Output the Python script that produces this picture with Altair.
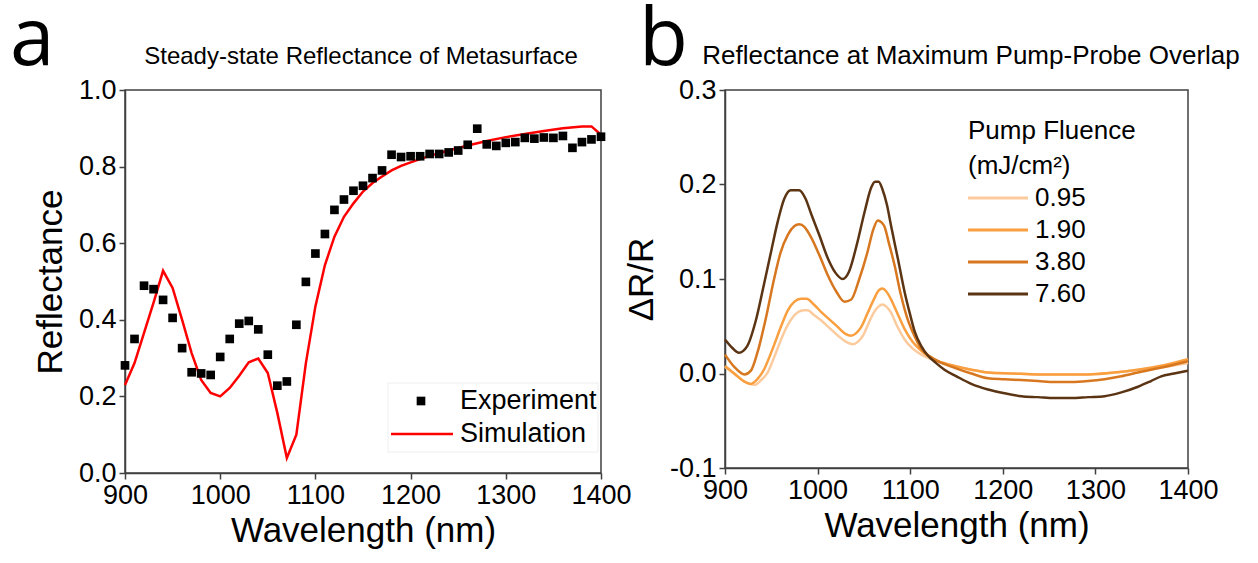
import altair as alt
import pandas as pd

# ---------------- Panel a data ----------------
exp_wl = list(range(900, 1401, 10))
exp_R = [0.281, 0.350, 0.489, 0.480, 0.452, 0.405, 0.326, 0.263, 0.260, 0.256,
         0.303, 0.350, 0.390, 0.397, 0.375, 0.309, 0.228, 0.239, 0.387, 0.499,
         0.573, 0.624, 0.687, 0.714, 0.737, 0.750, 0.770, 0.790, 0.831, 0.825,
         0.827, 0.827, 0.833, 0.833, 0.837, 0.842, 0.857, 0.899, 0.858, 0.854,
         0.862, 0.864, 0.875, 0.873, 0.876, 0.875, 0.880, 0.849, 0.864, 0.871,
         0.878]
sim_wl = [900, 910, 920, 930, 940, 950, 960, 970, 980, 990, 1000, 1010, 1020,
          1030, 1040, 1050, 1060, 1070, 1080, 1090, 1100, 1110, 1120, 1130,
          1140, 1150, 1160, 1170, 1180, 1190, 1200, 1220, 1240, 1260, 1280,
          1300, 1320, 1340, 1360, 1380, 1390, 1400]
sim_R = [0.230, 0.287, 0.366, 0.445, 0.528, 0.483, 0.400, 0.313, 0.243, 0.209,
         0.200, 0.222, 0.254, 0.289, 0.299, 0.261, 0.157, 0.039, 0.100, 0.287,
         0.435, 0.543, 0.617, 0.669, 0.704, 0.735, 0.757, 0.774, 0.790, 0.802,
         0.811, 0.828, 0.842, 0.855, 0.867, 0.877, 0.885, 0.893, 0.900, 0.905,
         0.905, 0.883]
legend_a_labels = ["Experiment", "Simulation"]
title_a = "Steady-state Reflectance of Metasurface"
title_b = "Reflectance at Maximum Pump-Probe Overlap"

# ---------------- Panel b data ----------------
fluences = ["0.95", "1.90", "3.80", "7.60"]
fluence_colors = ["#FCCB9D", "#F99F3F", "#D7771F", "#5B3413"]

wl_095 = [900, 912, 922, 932, 939, 946, 955, 964, 972, 979, 985, 989, 996, 1004,
          1013, 1022, 1030, 1038, 1044, 1049, 1055, 1061, 1066, 1070, 1074, 1079,
          1086, 1094, 1103, 1112, 1130, 1148, 1166, 1184, 1210, 1238, 1265, 1292,
          1320, 1346, 1375, 1400]
dr_095 = [0.007, -0.002, -0.009, -0.012, -0.007, 0.001, 0.022, 0.044, 0.058, 0.065,
          0.067, 0.067, 0.062, 0.056, 0.048, 0.040, 0.034, 0.031, 0.034, 0.040,
          0.053, 0.065, 0.071, 0.073, 0.071, 0.065, 0.050, 0.036, 0.026, 0.020,
          0.013, 0.008, 0.004, 0.001, 0.000, -0.001, -0.001, -0.001, 0.001, 0.004,
          0.007, 0.011]

wl_190 = [900, 910, 920, 928, 935, 942, 951, 961, 968, 975, 982, 988, 996, 1004,
          1013, 1022, 1030, 1036, 1042, 1047, 1054, 1061, 1066, 1070, 1074, 1079,
          1086, 1094, 1103, 1112, 1130, 1148, 1166, 1184, 1210, 1238, 1265, 1292,
          1320, 1346, 1375, 1400]
dr_190 = [0.008, 0.000, -0.008, -0.011, -0.006, 0.004, 0.025, 0.051, 0.067, 0.076,
          0.079, 0.079, 0.073, 0.065, 0.057, 0.049, 0.042, 0.040, 0.043, 0.049,
          0.064, 0.079, 0.088, 0.090, 0.087, 0.079, 0.064, 0.047, 0.033, 0.024,
          0.013, 0.008, 0.004, 0.001, 0.000, -0.001, -0.001, -0.001, 0.001, 0.004,
          0.009, 0.015]

wl_380 = [900, 910, 921, 928, 935, 944, 953, 960, 968, 975, 980, 986, 993, 1002,
          1011, 1020, 1029, 1036, 1045, 1054, 1060, 1065, 1069, 1072, 1077, 1083,
          1090, 1097, 1105, 1112, 1120, 1130, 1148, 1166, 1184, 1202, 1220, 1238,
          1256, 1274, 1292, 1310, 1328, 1346, 1370, 1400]
dr_380 = [0.020, 0.007, -0.001, 0.003, 0.022, 0.058, 0.100, 0.128, 0.147, 0.156,
          0.158, 0.155, 0.144, 0.125, 0.104, 0.087, 0.076, 0.078, 0.100, 0.129,
          0.152, 0.162, 0.160, 0.156, 0.138, 0.115, 0.083, 0.058, 0.039, 0.026,
          0.019, 0.013, 0.006, 0.000, -0.005, -0.006, -0.007, -0.008, -0.009,
          -0.009, -0.008, -0.006, -0.003, 0.001, 0.006, 0.013]

wl_760 = [900, 908, 915, 924, 933, 942, 950, 957, 964, 971, 980, 987, 993, 1002,
          1011, 1019, 1027, 1034, 1042, 1051, 1058, 1062, 1066, 1070, 1075, 1079,
          1087, 1094, 1100, 1105, 1112, 1119, 1128, 1137, 1150, 1166, 1184, 1202,
          1220, 1238, 1256, 1274, 1292, 1310, 1328, 1346, 1360, 1371, 1385, 1400]
dr_760 = [0.036, 0.027, 0.022, 0.029, 0.055, 0.094, 0.130, 0.161, 0.185, 0.194,
          0.194, 0.185, 0.169, 0.146, 0.122, 0.107, 0.100, 0.108, 0.135, 0.172,
          0.197, 0.203, 0.203, 0.195, 0.178, 0.158, 0.120, 0.086, 0.062, 0.044,
          0.029, 0.019, 0.011, 0.004, -0.003, -0.011, -0.017, -0.021, -0.024,
          -0.025, -0.026, -0.026, -0.025, -0.024, -0.020, -0.014, -0.008, -0.003,
          0.000, 0.003]

FONT = "Liberation Sans"
wl_ticks = [900, 1000, 1100, 1200, 1300, 1400]


def text_layer(label, x, y, size, font=FONT, align="left", baseline="middle"):
    return alt.Chart(pd.DataFrame({"label": [label]})).mark_text(
        align=align, baseline=baseline, font=font, fontSize=size, color="black").encode(
        x=alt.value(x), y=alt.value(y), text="label:N")


# ---------------- Panel a ----------------
exp_df = pd.DataFrame({"wl": exp_wl, "R": exp_R})
sim_df = pd.DataFrame({"wl": sim_wl, "R": sim_R})

xa = alt.X("wl:Q", scale=alt.Scale(domain=[900, 1400], nice=False, zero=False),
           axis=alt.Axis(values=wl_ticks, format="d", title="Wavelength (nm)"))
ya = alt.Y("R:Q", scale=alt.Scale(domain=[0, 1], nice=False),
           axis=alt.Axis(values=[0, 0.2, 0.4, 0.6, 0.8, 1.0], format=".1f",
                         title="Reflectance"))

sim_line = alt.Chart(sim_df).mark_line(color="#FF0000", strokeWidth=2.5).encode(x=xa, y=ya)
exp_pts = alt.Chart(exp_df).mark_point(shape="square", filled=True, color="black",
                                       size=75, opacity=1).encode(x=xa, y=ya)

leg_box = alt.Chart(pd.DataFrame({"k": [0]})).mark_rect(
    fill="white", stroke="#eeeeee", strokeWidth=1).encode(
    x=alt.value(263), x2=alt.value(473), y=alt.value(293), y2=alt.value(362))
leg_sq = alt.Chart(pd.DataFrame({"label": [legend_a_labels[0]]})).mark_point(
    shape="square", filled=True, color="black", size=75, opacity=1).encode(
    x=alt.value(296), y=alt.value(311))
leg_ln = alt.Chart(pd.DataFrame({"label": [legend_a_labels[1]]})).mark_rule(
    color="#FF0000", strokeWidth=2.5).encode(
    x=alt.value(266), x2=alt.value(328), y=alt.value(344))
leg_t1 = text_layer(legend_a_labels[0], 335, 311, 27)
leg_t2 = text_layer(legend_a_labels[1], 335, 344, 27)
letter_a = text_layer("a", -115, -25, 80, font="Open Sans", baseline="alphabetic")
ttl_a = text_layer(title_a, 236, -26, 24, align="center", baseline="alphabetic")

panel_a = alt.layer(sim_line, exp_pts, leg_box, leg_sq, leg_ln, leg_t1, leg_t2,
                    letter_a, ttl_a).properties(width=476, height=383)

# ---------------- Panel b ----------------
rows = []
for f, wls, vals in zip(fluences, [wl_095, wl_190, wl_380, wl_760],
                        [dr_095, dr_190, dr_380, dr_760]):
    for w, v in zip(wls, vals):
        rows.append({"wl": w, "dr": v, "fluence": f})
b_df = pd.DataFrame(rows)

xb = alt.X("wl:Q", scale=alt.Scale(domain=[900, 1400], nice=False, zero=False),
           axis=alt.Axis(values=wl_ticks, format="d", title="Wavelength (nm)"))
yb = alt.Y("dr:Q", scale=alt.Scale(domain=[-0.1, 0.3], nice=False, zero=False),
           axis=alt.Axis(values=[-0.1, 0.0, 0.1, 0.2, 0.3],
                         labelExpr="replace(format(datum.value, '.1f'), '\u2212', '-')",
                         title="\u0394R/R"))

lines_b = alt.Chart(b_df).mark_line(strokeWidth=2.5, interpolate="monotone").encode(
    x=xb, y=yb,
    color=alt.Color("fluence:N",
                    scale=alt.Scale(domain=fluences, range=fluence_colors),
                    legend=alt.Legend(
                        orient="none", legendX=243, legendY=28,
                        title=["Pump Fluence", "(mJ/cm\u00b2)"],
                        titleFont=FONT, titleFontSize=26, titleFontWeight="normal",
                        titleColor="black", titleLineHeight=35, titlePadding=6,
                        labelFont=FONT, labelFontSize=26, labelColor="black",
                        labelOffset=41, symbolType="M-2.6,0H9.4", symbolSize=100,
                        symbolStrokeWidth=3, rowPadding=6, padding=0)))

letter_b = text_layer("b", -86, -25, 80, font="Open Sans", baseline="alphabetic")
ttl_b = text_layer(title_b, 246, -26, 26, align="center", baseline="alphabetic")

panel_b = alt.layer(lines_b, letter_b, ttl_b).properties(width=463, height=378)

chart = alt.hconcat(panel_a, panel_b, spacing=124, bounds="flush").resolve_scale(
    color="independent").resolve_legend(color="independent").properties(
    padding={"left": 9, "top": 0, "right": 5, "bottom": 2}, background="white"
).configure_axis(
    labelFont=FONT, titleFont=FONT, labelFontSize=27, titleFontSize=35,
    titleFontWeight="normal", labelColor="black", titleColor="black",
    domainColor="#404040", tickColor="#404040", domainWidth=1.5, tickWidth=1.5,
    tickSize=6, grid=False, labelPadding=3, labelFlush=False, labelOverlap=False
).configure_axisX(titlePadding=5).configure_axisY(titlePadding=10).configure_view(
    stroke="#404040", strokeWidth=1.5
)

chart.save("out.html", embed_options={"renderer": "svg", "actions": False})
